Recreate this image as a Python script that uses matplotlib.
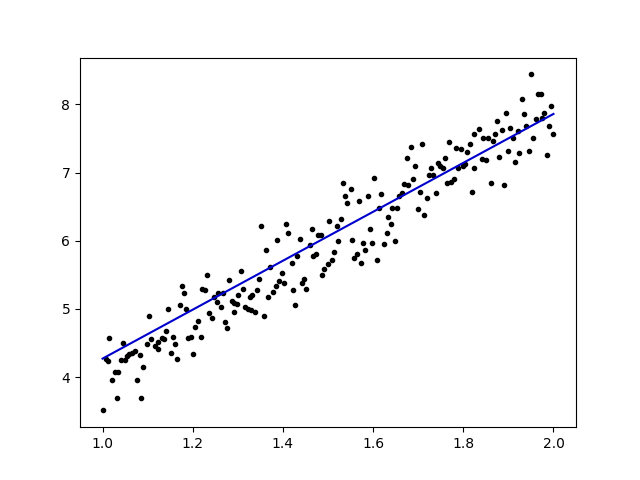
import matplotlib
matplotlib.use("Agg")
import matplotlib.pyplot as plt

x_vals = [
    1.002, 1.014, 1.008, 1.012, 1.022, 1.031, 1.028, 1.035, 1.046, 1.041,
    1.050, 1.055, 1.059, 1.065, 1.071, 1.082, 1.090, 1.077, 1.086, 1.102,
    1.098, 1.108, 1.116, 1.124, 1.122, 1.131, 1.137, 1.141, 1.146, 1.152,
    1.157,
    1.177, 1.181, 1.172, 1.185, 1.161, 1.166, 1.201, 1.190, 1.196, 1.205,
    1.212, 1.218, 1.232, 1.221, 1.227, 1.237, 1.242, 1.247, 1.253, 1.257,
    1.262, 1.268, 1.272, 1.277, 1.281, 1.286, 1.292, 1.298, 1.292, 1.301,
    1.307, 1.312, 1.316, 1.322, 1.326,
    1.351, 1.407, 1.412, 1.388, 1.363, 1.371, 1.347, 1.332, 1.343, 1.329,
    1.338, 1.357, 1.368, 1.377, 1.384, 1.392, 1.399, 1.403, 1.420, 1.423,
    1.432, 1.439, 1.427, 1.443, 1.447, 1.451, 1.459, 1.464, 1.467, 1.473,
    1.478, 1.484, 1.487, 1.492,
    1.534, 1.550, 1.603, 1.538, 1.543, 1.569, 1.589, 1.618, 1.657, 1.614,
    1.643, 1.652, 1.503, 1.528, 1.519, 1.634, 1.639, 1.630, 1.593, 1.523,
    1.554, 1.578, 1.598, 1.625, 1.649, 1.582, 1.514, 1.564, 1.558, 1.573,
    1.609, 1.508, 1.501,
    1.684, 1.709, 1.675, 1.694, 1.769, 1.784, 1.795, 1.808, 1.815, 1.824,
    1.759, 1.745, 1.748, 1.754, 1.728, 1.724, 1.733, 1.689, 1.669, 1.678,
    1.788, 1.799, 1.804, 1.824, 1.765, 1.773, 1.780, 1.704, 1.665, 1.739,
    1.720, 1.700, 1.714, 1.820,
    1.950, 1.966, 1.972, 1.931, 1.994, 1.935, 1.895, 1.979, 1.974, 1.961,
    1.875, 1.990, 2.000, 1.939, 1.835, 1.885, 1.904, 1.921, 1.870, 1.844,
    1.855, 1.865, 1.911, 1.955, 1.900, 1.924, 1.946, 1.986, 1.880, 1.841,
    1.850, 1.915, 1.861, 1.890,
]

y_vals = [
    3.51, 4.57, 4.26, 4.24, 3.95, 3.69, 4.07, 4.08, 4.50, 4.25,
    4.25, 4.31, 4.34, 4.35, 4.38, 4.33, 4.15, 3.96, 3.69, 4.90,
    4.48, 4.56, 4.45, 4.41, 4.52, 4.57, 4.56, 4.67, 5.00, 4.35,
    4.59,
    5.34, 5.23, 5.05, 5.00, 4.49, 4.27, 4.34, 4.57, 4.59, 4.74,
    4.82, 4.58, 5.50, 5.29, 5.28, 4.94, 4.87, 5.18, 5.10, 5.23,
    5.03, 5.23, 4.81, 4.72, 5.43, 5.11, 5.08, 5.07, 4.95, 5.20,
    5.55, 5.29, 5.03, 5.00, 5.17,
    6.21, 6.25, 6.12, 6.01, 5.87, 5.62, 5.44, 5.21, 5.28, 4.99,
    4.96, 4.89, 5.18, 5.25, 5.33, 5.41, 5.52, 5.38, 5.68, 5.28,
    5.77, 6.03, 5.06, 5.38, 5.44, 5.29, 5.93, 6.17, 5.78, 5.80,
    6.08, 6.08, 5.49, 5.59,
    6.84, 6.76, 6.92, 6.65, 6.56, 6.58, 6.65, 6.69, 6.66, 6.48,
    6.48, 6.48, 6.29, 6.32, 6.22, 6.35, 6.24, 6.12, 6.17, 5.99,
    6.01, 5.97, 5.97, 5.95, 5.99, 5.87, 5.83, 5.81, 5.75, 5.68,
    5.72, 5.72, 5.66,
    7.38, 7.42, 7.22, 7.10, 7.45, 7.36, 7.34, 7.30, 7.42, 7.56,
    7.22, 7.14, 7.10, 7.07, 7.06, 6.96, 6.96, 6.91, 6.83, 6.81,
    7.07, 7.10, 7.13, 7.07, 6.84, 6.86, 6.90, 6.71, 6.70, 6.70,
    6.62, 6.47, 6.37, 6.71,
    8.44, 8.15, 8.15, 8.08, 7.97, 7.86, 7.88, 7.87, 7.80, 7.78,
    7.75, 7.68, 7.56, 7.69, 7.64, 7.63, 7.66, 7.61, 7.56, 7.50,
    7.51, 7.47, 7.50, 7.50, 7.32, 7.29, 7.31, 7.26, 7.23, 7.20,
    7.18, 7.16, 6.84, 6.82,
]

fit_x = [1.0, 2.0]
fit_y = [4.27, 7.86]

fig, ax = plt.subplots(figsize=(6.4, 4.8), dpi=100)
ax.plot(x_vals, y_vals, 'k.')
ax.plot(fit_x, fit_y, color='#0000cc')
fig.savefig("out.png")
